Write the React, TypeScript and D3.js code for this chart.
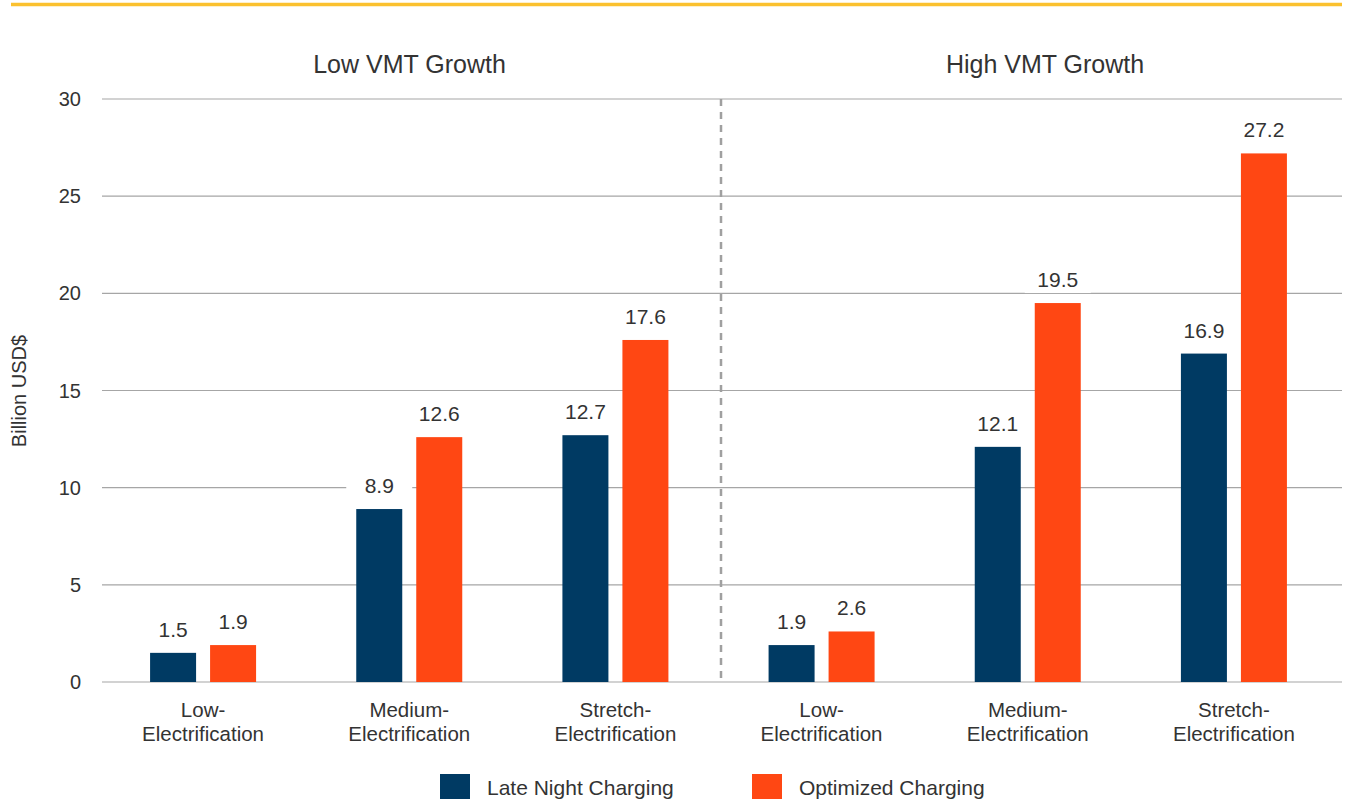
import React from "react";
import * as d3 from "d3";

const groups = ["Low VMT Growth", "High VMT Growth"];
const categories = ["Low-Electrification", "Medium-Electrification", "Stretch-Electrification"];
const seriesNames = ["Late Night Charging", "Optimized Charging"];
const lateNight = [1.5, 8.9, 12.7, 1.9, 12.1, 16.9];
const optimized = [1.9, 12.6, 17.6, 2.6, 19.5, 27.2];
const yTicks = [0, 5, 10, 15, 20, 25, 30];
const colors = ["#003A63", "#FF4713"];

const W = 1349, H = 802;
const left = 102, right = 1342, top = 99, bottom = 682;
const FONT = "'Liberation Sans', Arial, sans-serif";
const TXT = "#333333";

export default function App() {
  const y = d3.scaleLinear().domain([0, 30]).range([bottom, top]);
  const slots = d3.range(6).map(String);
  const x0 = d3.scaleBand().domain(slots).range([100, 1337]).paddingInner(0).paddingOuter(0);
  const x1 = d3.scaleBand().domain(seriesNames).range([0, 106]).paddingInner(14 / 60);
  const bw = x1.bandwidth();
  const values = [lateNight, optimized];
  const titleX = [409.5, 1045];

  return (
    <svg width={W} height={H} style={{ position: "absolute", left: 0, top: 0 }} fontFamily={FONT}>
      <rect x={0} y={0} width={W} height={H} fill="#fff" />
      <line x1={11} x2={1342} y1={4.5} y2={4.5} stroke="#FBC12F" strokeWidth={3.5} />
      {groups.map((g, i) => (
        <text key={g} x={titleX[i]} y={73} textAnchor="middle" fontSize={25} fill={TXT}>{g}</text>
      ))}
      {yTicks.map((t) => (
        <g key={t}>
          <line x1={left} x2={right} y1={y(t)} y2={y(t)} stroke="#A6A6A6" strokeWidth={1.2} />
          <text x={81} y={y(t) + 7} textAnchor="end" fontSize={20} fill={TXT}>{t}</text>
        </g>
      ))}
      <line x1={721} x2={721} y1={top} y2={bottom} stroke="#A0A0A0" strokeWidth={2.5} strokeDasharray="7,6" />
      <text transform={`translate(26,391) rotate(-90)`} textAnchor="middle" fontSize={20} fill={TXT}>Billion USD$</text>
      {slots.map((s, i) => {
        const cx = x0(s)! + x0.bandwidth() / 2;
        const gx = cx - 53;
        const cat = categories[i % 3];
        const [l1, l2] = [cat.split("-")[0] + "-", cat.split("-")[1]];
        return (
          <g key={s}>
            {seriesNames.map((n, k) => {
              const v = values[k][i];
              const bx = gx + x1(n)!;
              return (
                <g key={n}>
                  <rect x={bx} y={y(v)} width={bw} height={bottom - y(v)} fill={colors[k]} />
                  <rect x={bx + bw / 2 - 33} y={y(v) - 40} width={66} height={30} fill="#fff" />
                  <text x={bx + bw / 2} y={y(v) - 16} textAnchor="middle" fontSize={21} fill={TXT}>{v.toFixed(1)}</text>
                </g>
              );
            })}
            <text x={cx} y={717} textAnchor="middle" fontSize={20.5} fill={TXT}>{l1}</text>
            <text x={cx} y={741} textAnchor="middle" fontSize={20.5} fill={TXT}>{l2}</text>
          </g>
        );
      })}
      {seriesNames.map((n, k) => {
        const lx = k === 0 ? 440 : 752;
        return (
          <g key={n}>
            <rect x={lx} y={774} width={30} height={25} fill={colors[k]} />
            <text x={lx + 47} y={795} fontSize={21} fill={TXT}>{n}</text>
          </g>
        );
      })}
    </svg>
  );
}
